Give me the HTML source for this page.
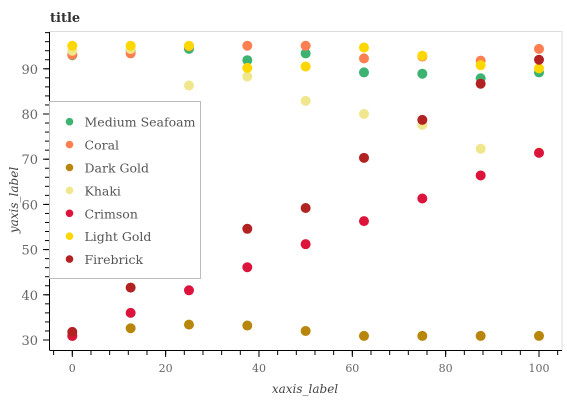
<!DOCTYPE html>
<html><head><meta charset="utf-8"><style>
body{margin:0;background:#fff;}
svg text{font-family:"DejaVu Serif","Liberation Serif",serif;}
</style></head><body>
<svg id="chart" width="567" height="400" xmlns="http://www.w3.org/2000/svg">
<text x="50" y="22" font-size="13" font-weight="bold" fill="#333">title</text>
<rect x="49.5" y="31.5" width="512.5" height="319" fill="none" stroke="#ddd" stroke-width="1"/>
<g id="plot"></g>
<text x="305" y="393" font-size="12" font-style="italic" fill="#444" text-anchor="middle">xaxis_label</text>
<text transform="translate(18,200) rotate(-90)" font-size="12" font-style="italic" fill="#444" text-anchor="middle">yaxis_label</text>
</svg>
<script>
const xValues=[0,12.5,25,37.5,50,62.5,75,87.5,100];
const seriesNames=["Medium Seafoam","Coral","Dark Gold","Khaki","Crimson","Light Gold","Firebrick"];
const seriesColors=["#3cb371","#ff7f50","#b8860b","#f0e68c","#dc143c","#ffd700","#b22222"];
const mediumSeafoam=[93,94,94.4,91.9,93.4,89.2,88.9,87.9,89.2];
const coral=[93.1,93.4,95,95.1,95.1,92.3,92.7,91.8,94.4];
const darkGold=[30.9,32.6,33.4,33.2,32.0,30.9,30.9,30.9,30.9];
const khaki=[94,94.4,86.3,88.3,82.9,80.0,77.6,72.3,71.5];
const crimson=[30.9,36.0,41.0,46.1,51.2,56.3,61.3,66.4,71.4];
const lightGold=[95.1,95.1,95.1,90.2,90.5,94.7,92.9,90.8,90.1];
const firebrick=[31.8,41.6,48,54.6,59.2,70.3,78.7,86.7,92.0];
const xTicks=[0,20,40,60,80,100];
const yTicks=[30,40,50,60,70,80,90];
const allSeries=[mediumSeafoam,coral,darkGold,khaki,crimson,lightGold,firebrick];
const drawOrder=[0,1,2,3,4,5,6];

const NS="http://www.w3.org/2000/svg";
const X=v=>72.3+v*4.667;
const Y=v=>340-(v-30)*4.52;
const g=document.getElementById('plot');
function mk(t,a,p){const e=document.createElementNS(NS,t);for(const k in a)e.setAttribute(k,a[k]);(p||g).appendChild(e);return e;}

let ax=mk('line',{x1:49.5,y1:32,x2:49.5,y2:350,stroke:'#000','stroke-width':1});


let bx=mk('line',{x1:49.5,y1:350.5,x2:562,y2:350.5,stroke:'#000','stroke-width':1});


for(let v=32;v<=98;v+=2){const l=mk('line',{x1:45,y1:Y(v),x2:49.5,y2:Y(v),stroke:'#000'});

}
for(let v=-4;v<=104;v+=4){const l=mk('line',{x1:X(v),y1:350.5,x2:X(v),y2:355,stroke:'#000'});

}
yTicks.forEach(v=>{const l=mk('line',{x1:43,y1:Y(v),x2:49.5,y2:Y(v),stroke:'#000'});


const t=mk('text',{x:38,y:Y(v)+5,'font-size':13,fill:'#666','text-anchor':'end'});t.textContent=v;

});
xTicks.forEach(v=>{const l=mk('line',{x1:X(v),y1:350.5,x2:X(v),y2:357,stroke:'#000'});


const t=mk('text',{x:X(v),y:372,'font-size':11,fill:'#666','text-anchor':'middle'});t.textContent=v;

});

drawOrder.forEach(si=>{allSeries[si].forEach((v,i)=>{
const c=mk('circle',{cx:X(xValues[i]),cy:Y(v),r:5,fill:seriesColors[si]});

});});

const lg=mk('g',{});


mk('rect',{x:49.5,y:101.5,width:151,height:177,fill:'#fff',stroke:'#bbb','stroke-width':1},lg);
seriesNames.forEach((n,i)=>{const y=121.7+i*22.9;
const e=mk('g',{},lg);


mk('circle',{cx:69.5,cy:y,r:3.8,fill:seriesColors[i]},e);
const t=mk('text',{x:84.5,y:y+5,'font-size':12.5,fill:'#555'},e);t.textContent=n;});
</script>
</body></html>
